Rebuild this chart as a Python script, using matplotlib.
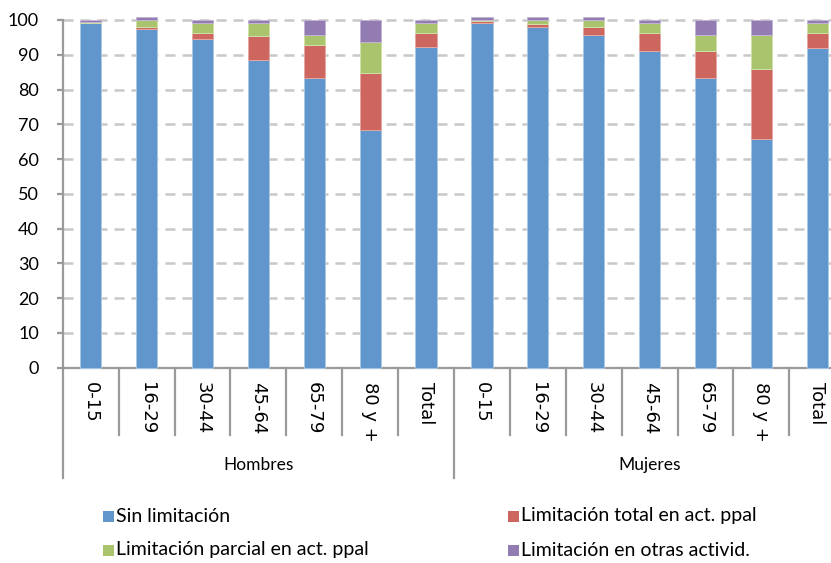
import matplotlib
matplotlib.use("Agg")
import matplotlib.pyplot as plt
from matplotlib.patches import Rectangle
import matplotlib.transforms as mtransforms
import numpy as np

# Age groups for each sex
groups = ["Hombres", "Mujeres"]
ages = ["0-15", "16-29", "30-44", "45-64", "65-79", "80 y +", "Total"]

series_names = [
    "Sin limitación",
    "Limitación total en act. ppal",
    "Limitación parcial en act. ppal",
    "Limitación en otras activid.",
]

# Percentages per category (Hombres first, then Mujeres)
sin_limitacion = [99.0, 97.4, 94.6, 88.5, 83.2, 68.4, 92.1,
                  99.0, 98.1, 95.6, 91.1, 83.2, 65.7, 92.0]
lim_total = [0.2, 0.7, 1.8, 7.0, 9.7, 16.5, 4.3,
             0.8, 0.8, 2.5, 5.3, 7.9, 20.1, 4.4]
lim_parcial = [0.1, 1.9, 2.8, 3.7, 2.8, 8.9, 2.8,
               0.1, 1.1, 1.9, 2.8, 4.5, 9.8, 2.8]
lim_otras = [0.7, 1.0, 0.8, 0.8, 4.3, 6.2, 0.8,
             1.1, 1.0, 1.0, 0.8, 4.4, 4.4, 0.8]

colors = ["#6096CB", "#CC665E", "#A9C46C", "#937CB1"]
edges = ["#A9C8E6", "#E4A7A2", "#CFE0A9", "#C2B4D4"]

W, H = 831, 563
fig = plt.figure(figsize=(W / 100, H / 100), dpi=100)

ax_left, ax_right, ax_top, ax_bottom = 62.7, 845.3, 20.0, 367.7
ax = fig.add_axes([ax_left / W, 1 - ax_bottom / H,
                   (ax_right - ax_left) / W, (ax_bottom - ax_top) / H])

x = np.arange(len(sin_limitacion))
bottom = np.zeros(len(x))
for vals, c, e in zip([sin_limitacion, lim_total, lim_parcial, lim_otras], colors, edges):
    bars = ax.bar(x, vals, width=0.38, bottom=bottom, color=c,
                  edgecolor=e, linewidth=0.7, zorder=3)
    for b in bars:
        b.set_clip_on(False)
    bottom += np.array(vals)

ax.set_xlim(-0.5, len(x) - 0.5)
ax.set_ylim(0, 100)
ax.set_yticks(range(0, 101, 10))
ax.set_xticks([])

# Dashed horizontal grid
for yv in range(10, 101, 10):
    ax.axhline(yv, color="#C8C8C8", linewidth=1.8, dashes=(4, 2.8), zorder=1,
               clip_on=False)

for s in ["top", "right"]:
    ax.spines[s].set_visible(False)
for s in ["left", "bottom"]:
    ax.spines[s].set_color("#9A9A9A")
    ax.spines[s].set_linewidth(1.6)
ax.tick_params(axis="y", direction="out", length=4, width=1.6, color="#9A9A9A",
               pad=13, labelsize=13, labelcolor="#000000")
for lab in ax.get_yticklabels():
    lab.set_fontfamily("Lato")

# Category separators and labels below the axis
ax_h = ax_bottom - ax_top
def frac(py):
    return (ax_bottom - py) / ax_h

trans = mtransforms.blended_transform_factory(ax.transData, ax.transAxes)
for i in range(len(x) + 1):
    xs = i - 0.5
    end = frac(478) if i in (0, 7, 14) else frac(435)
    ax.plot([xs, xs], [0, end], color="#9A9A9A", linewidth=1.6,
            transform=trans, clip_on=False)

labels = ages + ages
for i, lab in enumerate(labels):
    ax.text(i, frac(382), lab, transform=trans, rotation=270,
            ha="center", va="top", fontsize=13, family="DejaVu Sans",
            color="#000000")

for g, gi in enumerate(groups):
    ax.text(g * 7 + 3, frac(465), gi, transform=trans, ha="center",
            va="center", fontsize=12.5, family="Lato", color="#000000")

# Legend
legend_pos = [(103, 516), (508, 516), (103, 550), (508, 550)]
for (lx, ly), name, c in zip(legend_pos, series_names, colors):
    fig.patches.append(Rectangle((lx / W, 1 - (ly + 5.5) / H), 11 / W, 11 / H,
                                 transform=fig.transFigure, facecolor=c,
                                 edgecolor="none"))
    fig.text((lx + 13) / W, 1 - ly / H, name, ha="left", va="center",
             fontsize=14, family="Lato", color="#000000")

fig.savefig("out.png", dpi=100)
